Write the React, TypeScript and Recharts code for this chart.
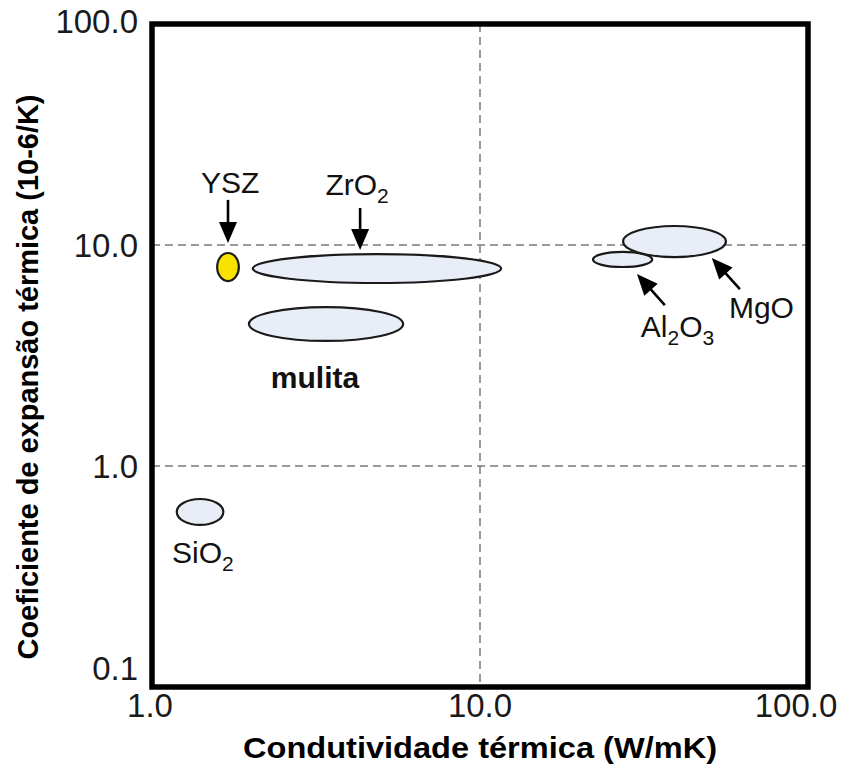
import React from 'react';
import {
  ScatterChart,
  Scatter,
  XAxis,
  YAxis,
  CartesianGrid,
  ReferenceArea,
  ReferenceLine,
  ReferenceDot,
  Label,
} from 'recharts';

const FONT = '"Liberation Sans", Arial, sans-serif';

// axis ticks (log scales)
const xTicks = [1, 10, 100];
const yTicks = [0.1, 1, 10, 100];

// material regions: thermal conductivity range (W/mK) x expansion range (10-6/K)
const materials = [
  { name: 'YSZ', kMin: 1.58, kMax: 1.84, aMin: 6.87, aMax: 9.2, fill: '#f7e200' },
  { name: 'ZrO2', kMin: 2.03, kMax: 11.6, aMin: 6.73, aMax: 9.1, fill: '#e8edf7' },
  { name: 'mulita', kMin: 1.975, kMax: 5.83, aMin: 3.68, aMax: 5.24, fill: '#e8edf7' },
  { name: 'SiO2', kMin: 1.19, kMax: 1.65, aMin: 0.541, aMax: 0.709, fill: '#e8edf7' },
  { name: 'Al2O3', kMin: 22.1, kMax: 33.5, aMin: 7.95, aMax: 9.3, fill: '#e8edf7' },
  { name: 'MgO', kMin: 27.3, kMax: 56.2, aMin: 8.82, aMax: 12.19, fill: '#e8edf7' },
];

const centers = materials.map(m => ({
  k: Math.sqrt(m.kMin * m.kMax),
  a: Math.sqrt(m.aMin * m.aMax),
}));

// label anchors (text centre, baseline)
const labels = [
  { text: 'YSZ', k: 1.73, a: 17.2, bold: false },
  { text: 'ZrO2', k: 4.22, a: 16.8, bold: false },
  { text: 'mulita', k: 3.14, a: 2.25, bold: true },
  { text: 'SiO2', k: 1.43, a: 0.364, bold: false },
  { text: 'Al2O3', k: 40.0, a: 3.83, bold: false },
  { text: 'MgO', k: 72.1, a: 4.67, bold: false },
];

// arrows: from (k1,a1) to tip (k2,a2)
const arrows = [
  { k1: 1.705, a1: 16.0, k2: 1.705, a2: 10.2 },
  { k1: 4.31, a1: 14.7, k2: 4.31, a2: 9.49 },
  { k1: 36.6, a1: 5.35, k2: 30.1, a2: 7.39 },
  { k1: 62.0, a1: 6.32, k2: 50.9, a2: 8.74 },
];

const EllipseShape = (p: any) => (
  <ellipse
    cx={p.x + p.width / 2}
    cy={p.y + p.height / 2}
    rx={Math.abs(p.width) / 2}
    ry={Math.abs(p.height) / 2}
    fill={p.fill}
    fillOpacity={1}
    stroke="#1a1a1a"
    strokeWidth={2.2}
  />
);

const ArrowShape = (p: any) => {
  const { x1, y1, x2, y2 } = p;
  const dx = x2 - x1;
  const dy = y2 - y1;
  const len = Math.sqrt(dx * dx + dy * dy) || 1;
  const ux = dx / len;
  const uy = dy / len;
  const head = 21;
  const half = 9;
  const bx = x2 - ux * head;
  const by = y2 - uy * head;
  const pts = `${x2},${y2} ${bx - uy * half},${by + ux * half} ${bx + uy * half},${by - ux * half}`;
  return (
    <g>
      <line x1={x1} y1={y1} x2={bx + ux * 2} y2={by + uy * 2} stroke="#000" strokeWidth={2.6} />
      <polygon points={pts} fill="#000" />
    </g>
  );
};

// digits in a formula are drawn as subscripts
const renderFormula = (text: string, x: number, y: number, bold: boolean) => {
  const parts = text.match(/[A-Za-z]+|[0-9]+/g) || [];
  let down = false;
  return (
    <text x={x} y={y} textAnchor="middle" fontFamily={FONT} fontSize={30} fontWeight={bold ? 'bold' : 'normal'} fill="#111">
      {parts.map((s, i) => {
        const isNum = /^[0-9]+$/.test(s);
        let shift = 0;
        if (isNum && !down) { shift = 8; down = true; }
        if (!isNum && down) { shift = -8; down = false; }
        return (
          <tspan key={i} dy={shift} fontSize={isNum ? 21 : 30}>{s}</tspan>
        );
      })}
    </text>
  );
};

const XTick = (p: any) => {
  const v = p.payload.value;
  const shift = v === 100 ? -12 : v === 1 ? -2 : 0;
  return (
    <text x={p.x + shift} y={p.y + 30} textAnchor="middle" fontFamily={FONT} fontSize={33} fill="#1a1a1a">
      {v.toFixed(1)}
    </text>
  );
};

const YTick = (p: any) => {
  const v = p.payload.value;
  const shift = v === 0.1 ? -19 : v === 100 ? -3 : 0;
  return (
    <text x={p.x - 14} y={p.y + shift} dy="0.36em" textAnchor="end" fontFamily={FONT} fontSize={33} fill="#1a1a1a">
      {v.toFixed(1)}
    </text>
  );
};

export default function App() {
  return (
    <div style={{ position: 'absolute', left: 0, top: 0, background: '#fff' }}>
      <ScatterChart width={845} height={766} margin={{ top: 24, right: 37, bottom: 19, left: 92 }}>
        <CartesianGrid stroke="#7a7a7a" strokeWidth={1.5} strokeDasharray="8 5" />
        <XAxis
          type="number"
          dataKey="k"
          scale="log"
          domain={[1, 100]}
          ticks={xTicks}
          allowDataOverflow
          axisLine={false}
          tickLine={false}
          tickSize={0}
          tickMargin={0}
          height={60}
          tick={<XTick />}
          interval={0}
        >
          <Label
            content={(props: any) => (
              <text
                x={props.viewBox.x + props.viewBox.width / 2}
                y={758}
                textAnchor="middle"
                fontFamily={FONT}
                fontSize={30}
                fontWeight="bold"
                fill="#000"
                textLength={474}
                lengthAdjust="spacingAndGlyphs"
              >
                Condutividade térmica (W/mK)
              </text>
            )}
          />
        </XAxis>
        <YAxis
          type="number"
          dataKey="a"
          scale="log"
          domain={[0.1, 100]}
          ticks={yTicks}
          allowDataOverflow
          axisLine={false}
          tickLine={false}
          tickSize={0}
          tickMargin={0}
          width={60}
          tick={<YTick />}
          interval={0}
        >
          <Label
            content={() => (
              <text
                x={38}
                y={377}
                transform="rotate(-90 38 377)"
                textAnchor="middle"
                fontFamily={FONT}
                fontSize={29}
                fontWeight="bold"
                fill="#000"
                textLength={565}
                lengthAdjust="spacingAndGlyphs"
              >
                Coeficiente de expansão térmica (10-6/K)
              </text>
            )}
          />
        </YAxis>
        <Scatter data={centers} isAnimationActive={false} shape={() => <g />} />
        {materials.map(m => (
          <ReferenceArea
            key={m.name}
            x1={m.kMin}
            x2={m.kMax}
            y1={m.aMin}
            y2={m.aMax}
            fill={m.fill}
            ifOverflow="visible"
            shape={EllipseShape}
          />
        ))}
        {arrows.map((a, i) => (
          <ReferenceLine
            key={i}
            segment={[{ x: a.k1, y: a.a1 }, { x: a.k2, y: a.a2 }]}
            ifOverflow="visible"
            shape={ArrowShape}
          />
        ))}
        {labels.map(l => (
          <ReferenceDot
            key={l.text}
            x={l.k}
            y={l.a}
            r={0}
            ifOverflow="visible"
            shape={(p: any) => renderFormula(l.text, p.cx, p.cy, l.bold)}
          />
        ))}
        <ReferenceArea
          x1={1}
          x2={100}
          y1={0.1}
          y2={100}
          fill="none"
          fillOpacity={0}
          stroke="#000"
          strokeWidth={5.5}
          ifOverflow="visible"
        />
      </ScatterChart>
    </div>
  );
}
